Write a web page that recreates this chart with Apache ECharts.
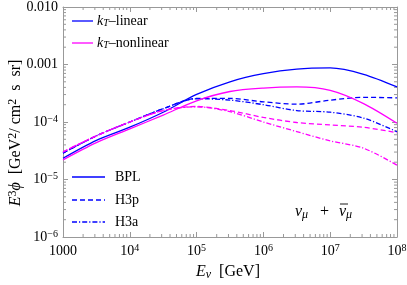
<!DOCTYPE html>
<html><head><meta charset="utf-8">
<script src="https://cdn.jsdelivr.net/npm/echarts@6/dist/echarts.min.js"></script>
<style>html,body{margin:0;padding:0;background:#fff}#c{width:407px;height:285px}</style>
</head><body><div id="c"></div>
<script>
// ---- data (E in GeV, flux E^3 phi in GeV^2 / cm^2 s sr) ----
const energies      = [1e3, 3.16e3, 1e4, 3.16e4, 1e5, 3.16e5, 1e6, 3.16e6, 1e7, 3.16e7, 1e8];
const bplLinear     = [2.34e-5, 4.79e-5, 8.13e-5, 1.48e-4, 3.02e-4, 5.01e-4, 6.92e-4, 8.32e-4, 8.71e-4, 6.76e-4, 4.07e-4];
const h3pLinear     = [2.88e-5, 5.75e-5, 1.00e-4, 1.70e-4, 2.57e-4, 2.57e-4, 2.24e-4, 2.04e-4, 2.40e-4, 2.69e-4, 2.63e-4];
const h3aLinear     = [2.88e-5, 5.75e-5, 1.00e-4, 1.70e-4, 2.54e-4, 2.40e-4, 2.00e-4, 1.58e-4, 1.48e-4, 1.17e-4, 6.76e-5];
const bplNonlinear  = [2.19e-5, 4.37e-5, 7.59e-5, 1.32e-4, 2.34e-4, 3.39e-4, 3.89e-4, 4.07e-4, 3.55e-4, 2.09e-4, 9.50e-5];
const h3pNonlinear  = [3.02e-5, 5.75e-5, 1.00e-4, 1.58e-4, 1.86e-4, 1.58e-4, 1.20e-4, 9.80e-5, 8.90e-5, 8.10e-5, 6.50e-5];
const h3aNonlinear  = [3.02e-5, 5.75e-5, 1.00e-4, 1.58e-4, 1.84e-4, 1.51e-4, 1.00e-4, 6.80e-5, 4.70e-5, 3.50e-5, 1.78e-5];

const xTicks = [1e3, 1e4, 1e5, 1e6, 1e7, 1e8];
const xTickLabels = ['1000', '10^4', '10^5', '10^6', '10^7', '10^8'];
const yTicks = [1e-6, 1e-5, 1e-4, 1e-3, 1e-2];
const yTickLabels = ['10^-6', '10^-5', '10^-4', '0.001', '0.010'];

// ---- styling ----
const FONT = 'Liberation Serif';
const BLUE = '#0000ff', MAG = '#ff00ff', FRAME = '#999999';
const DASH = [5, 3], DASHDOT = [5, 2, 1.2, 2];
const xMin = 1e3, xMax = 1e8, yMin = 1e-6, yMax = 1e-2;

function fmtLabel(s) {
  const i = s.indexOf('^');
  if (i < 0) return '{b|' + s + '}';
  return '{b|' + s.slice(0, i) + '}{sup|' + s.slice(i + 1).replace('-', '\u2212') + '}';
}
function pickLabel(v, ticks, labels) {
  const lv = Math.log10(v);
  for (let k = 0; k < ticks.length; k++) if (Math.abs(Math.log10(ticks[k]) - lv) < 1e-6) return fmtLabel(labels[k]);
  return '';
}
const tickRich = {
  b: { fontFamily: FONT, fontSize: 14, color: '#000', lineHeight: 16 },
  sup: { fontFamily: FONT, fontSize: 10, color: '#000', verticalAlign: 'top', lineHeight: 10, padding: [0, 0, 6, 0] }
};

// minor tick positions (2..9 per decade)
const xMinor = [], yMinor = [];
for (let e = 3; e < 8; e++) for (let m = 2; m <= 9; m++) xMinor.push([m * Math.pow(10, e), yMin]);
for (let e = -6; e < -2; e++) for (let m = 2; m <= 9; m++) yMinor.push([xMin, m * Math.pow(10, e)]);

function pairs(ys) { return energies.map((x, i) => [x, ys[i]]); }

function lineSeries(name, ys, color, type) {
  return {
    name, type: 'line', data: pairs(ys), smooth: 0.3, showSymbol: false, symbol: 'none',
    xAxisIndex: 0, yAxisIndex: 0, silent: true,
    lineStyle: { color, width: 1.3, type }
  };
}

const chart = echarts.init(document.getElementById('c'), null, { renderer: 'canvas' });

const axisCommon = {
  type: 'log', logBase: 10,
  axisLine: { show: true, lineStyle: { color: FRAME, width: 1 } },
  axisTick: { show: true, inside: true, length: 5, lineStyle: { color: FRAME } },
  splitLine: { show: false },
  minorTick: { show: false }
};

const nuRich = {
  n: { fontFamily: FONT, fontSize: 16, color: '#000' },
  i: { fontFamily: FONT, fontSize: 16, fontStyle: 'italic', color: '#000' },
  sub: { fontFamily: FONT, fontSize: 12, fontStyle: 'italic', color: '#000', verticalAlign: 'bottom', padding: [6, 0, 0, 0] },
  sup: { fontFamily: FONT, fontSize: 12, color: '#000', verticalAlign: 'top', padding: [0, 0, 7, 0] }
};

chart.setOption({
  animation: false,
  grid: { left: 63, right: 10, top: 7, bottom: 48, containLabel: false, outerBoundsMode: 'none' },
  xAxis: [
    Object.assign({}, axisCommon, {
      position: 'bottom', min: xMin, max: xMax, splitNumber: 5,
      axisLabel: { formatter: v => pickLabel(v, xTicks, xTickLabels), rich: tickRich, margin: 6 }
    }),
    Object.assign({}, axisCommon, {
      position: 'top', min: xMin, max: xMax, splitNumber: 5, axisLabel: { show: false }
    })
  ],
  yAxis: [
    Object.assign({}, axisCommon, {
      position: 'left', min: yMin, max: yMax, splitNumber: 4,
      axisLabel: { formatter: v => pickLabel(v, yTicks, yTickLabels), rich: tickRich, margin: 5 }
    }),
    Object.assign({}, axisCommon, {
      position: 'right', min: yMin, max: yMax, splitNumber: 4, axisLabel: { show: false }
    })
  ],
  series: [
    lineSeries('BPL kT-linear', bplLinear, BLUE, 'solid'),
    lineSeries('H3p kT-linear', h3pLinear, BLUE, DASH),
    lineSeries('H3a kT-linear', h3aLinear, BLUE, DASHDOT),
    lineSeries('BPL kT-nonlinear', bplNonlinear, MAG, 'solid'),
    lineSeries('H3p kT-nonlinear', h3pNonlinear, MAG, DASH),
    lineSeries('H3a kT-nonlinear', h3aNonlinear, MAG, DASHDOT),
    {
      type: 'custom', silent: true, clip: false, data: xMinor, xAxisIndex: 0, yAxisIndex: 0,
      renderItem: (p, api) => {
        const x = api.value(0);
        const b = api.coord([x, yMin]), t = api.coord([x, yMax]);
        return { type: 'group', children: [
          { type: 'line', shape: { x1: b[0], y1: b[1], x2: b[0], y2: b[1] - 3 }, style: { stroke: FRAME, lineWidth: 1 } },
          { type: 'line', shape: { x1: t[0], y1: t[1], x2: t[0], y2: t[1] + 3 }, style: { stroke: FRAME, lineWidth: 1 } }
        ]};
      }
    },
    {
      type: 'custom', silent: true, clip: false, data: yMinor, xAxisIndex: 0, yAxisIndex: 0,
      renderItem: (p, api) => {
        const y = api.value(1);
        const l = api.coord([xMin, y]), r = api.coord([xMax, y]);
        return { type: 'group', children: [
          { type: 'line', shape: { x1: l[0], y1: l[1], x2: l[0] + 3, y2: l[1] }, style: { stroke: FRAME, lineWidth: 1 } },
          { type: 'line', shape: { x1: r[0], y1: r[1], x2: r[0] - 3, y2: r[1] }, style: { stroke: FRAME, lineWidth: 1 } }
        ]};
      }
    }
  ],
  graphic: (function () {
    const legRich = {
      n: { fontFamily: FONT, fontSize: 14, color: '#000' },
      i: { fontFamily: FONT, fontSize: 14, fontStyle: 'italic', color: '#000' },
      sub: { fontFamily: FONT, fontSize: 10, fontStyle: 'italic', color: '#000', verticalAlign: 'bottom', padding: [5, 0, 0, 0] }
    };
    function legLine(x1, x2, y, color, dash) {
      return { type: 'line', shape: { x1, y1: y, x2, y2: y }, style: { stroke: color, lineWidth: 1.3, lineDash: dash || null }, silent: true };
    }
    function txt(x, y, text, rich, align) {
      return { type: 'text', x, y, silent: true, style: { text, rich: rich || legRich, font: '14px ' + FONT, fill: '#000', verticalAlign: 'middle', align: align || 'left' } };
    }
    const yName = txt(16, 133, '{i|E}{sup|3}{i|\u03d5}{n|  [GeV}{sup|2}{n|/ cm}{sup|2}{n|  s  sr]}', nuRich, 'center');
    yName.rotation = Math.PI / 2;
    return [
      legLine(72, 93, 21, BLUE), txt(97, 21, '{i|k}{sub|T}{n|\u2013linear}'),
      legLine(72, 93, 43, MAG), txt(97, 43, '{i|k}{sub|T}{n|\u2013nonlinear}'),
      legLine(72, 105, 177, BLUE), txt(115, 177, '{n|BPL}'),
      legLine(72, 105, 200, BLUE, DASH), txt(115, 200, '{n|H3p}'),
      legLine(72, 105, 222, BLUE, DASHDOT), txt(115, 222, '{n|H3a}'),
      txt(295, 212, '{i|\u03bd}{sub|\u03bc}', nuRich),
      txt(320, 212, '{n|+}', nuRich),
      txt(339, 212, '{i|\u03bd}{sub|\u03bc}', nuRich),
      { type: 'line', silent: true, shape: { x1: 340, y1: 204, x2: 348, y2: 204 }, style: { stroke: '#000', lineWidth: 0.9 } },
      yName,
      txt(228, 272, '{i|E}{sub|\u03bd}{n|  [GeV]}', nuRich, 'center')
    ];
  })()
});
</script>
</body></html>
